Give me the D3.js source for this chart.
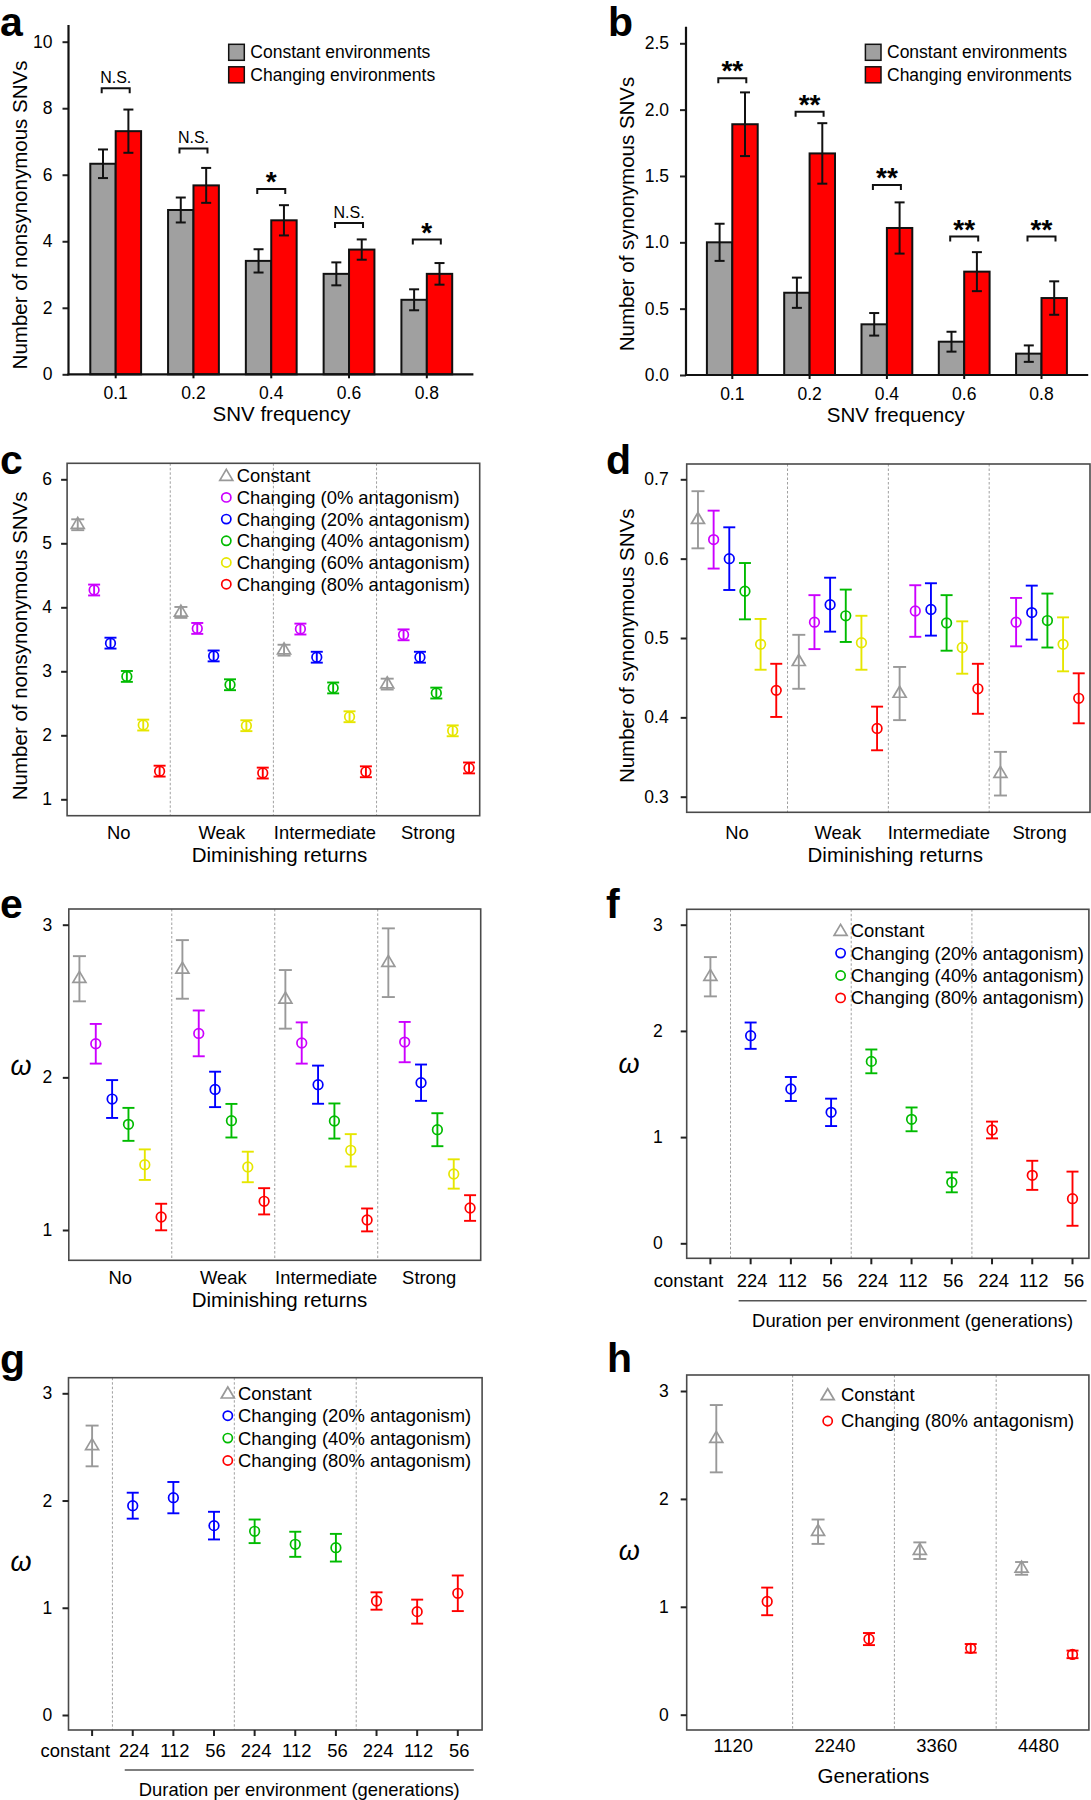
<!DOCTYPE html>
<html><head><meta charset="utf-8">
<script src="https://cdn.jsdelivr.net/npm/d3@7"></script>
<style>
body{margin:0;background:#fff}
svg{display:block;font-family:Arial,"Liberation Sans",Helvetica,sans-serif}
</style>
</head><body>
<svg id="chart" width="1091" height="1800"></svg>
<script>
// ---------------- data ----------------
const freqLabels = ["0.1", "0.2", "0.4", "0.6", "0.8"];
// panel a: nonsynonymous SNVs
const nonsynConst = [6.33, 4.94, 3.41, 3.02, 2.24];
const nonsynConstSE = [0.43, 0.375, 0.35, 0.345, 0.315];
const nonsynChange = [7.31, 5.68, 4.63, 3.75, 3.02];
const nonsynChangeSE = [0.65, 0.525, 0.455, 0.305, 0.325];
const nonsynSig = ["N.S.", "N.S.", "*", "N.S.", "*"];
const nonsynSigLevel = [8.6, 6.79, 5.57, 4.55, 4.05];
// panel b: synonymous SNVs
const synConst = [1.0, 0.62, 0.382, 0.251, 0.161];
const synConstSE = [0.14, 0.114, 0.085, 0.075, 0.062];
const synChange = [1.89, 1.67, 1.108, 0.779, 0.58];
const synChangeSE = [0.24, 0.228, 0.193, 0.147, 0.126];
const synSig = ["**", "**", "**", "**", "**"];
const synSigLevel = [2.236, 1.985, 1.432, 1.043, 1.043];

const drGroups = ["No", "Weak", "Intermediate", "Strong"];
const seriesKeys = ["constant", "ant0", "ant20", "ant40", "ant60", "ant80"];
const seriesNames = ["Constant", "Changing (0% antagonism)", "Changing (20% antagonism)",
  "Changing (40% antagonism)", "Changing (60% antagonism)", "Changing (80% antagonism)"];

// panel c: nonsynonymous SNVs by diminishing returns
const cConstant = [5.29, 3.92, 3.33, 2.80];
const cAnt0 = [4.27, 3.67, 3.66, 3.57];
const cAnt20 = [3.44, 3.24, 3.22, 3.22];
const cAnt40 = [2.92, 2.79, 2.74, 2.66];
const cAnt60 = [2.16, 2.15, 2.29, 2.07];
const cAnt80 = [1.44, 1.41, 1.43, 1.49];
const cSE = [0.085, 0.085, 0.085, 0.085];

// panel d: synonymous SNVs by diminishing returns
const dConstant = [0.649, 0.470, 0.430, 0.329];
const dAnt0 = [0.624, 0.520, 0.534, 0.520];
const dAnt20 = [0.600, 0.542, 0.536, 0.532];
const dAnt40 = [0.559, 0.528, 0.519, 0.522];
const dAnt60 = [0.492, 0.494, 0.488, 0.492];
const dAnt80 = [0.434, 0.386, 0.436, 0.424];
const dConstantSE = [0.036, 0.034, 0.0335, 0.0275];
const dAnt0SE = [0.0365, 0.034, 0.0325, 0.0305];
const dAnt20SE = [0.0395, 0.034, 0.033, 0.034];
const dAnt40SE = [0.0355, 0.033, 0.035, 0.034];
const dAnt60SE = [0.032, 0.034, 0.033, 0.034];
const dAnt80SE = [0.0335, 0.0275, 0.0315, 0.0315];

// panel e: omega by diminishing returns
const eConstant = [2.646, 2.707, 2.511, 2.751];
const eAnt0 = [2.22, 2.288, 2.225, 2.231];
const eAnt20 = [1.858, 1.921, 1.952, 1.965];
const eAnt40 = [1.692, 1.716, 1.714, 1.657];
const eAnt60 = [1.428, 1.413, 1.522, 1.367];
const eAnt80 = [1.085, 1.188, 1.066, 1.144];
const eConstantSE = [0.148, 0.192, 0.192, 0.225];
const eAnt0SE = [0.13, 0.15, 0.135, 0.132];
const eAnt20SE = [0.124, 0.116, 0.125, 0.119];
const eAnt40SE = [0.108, 0.11, 0.115, 0.108];
const eAnt60SE = [0.10, 0.10, 0.106, 0.096];
const eAnt80SE = [0.087, 0.086, 0.075, 0.084];

// panels f, g: omega by duration per environment
const durLabels = ["constant", "224", "112", "56", "224", "112", "56", "224", "112", "56"];
const fConstant = [2.51], fConstantSE = [0.185];
const fAnt20 = [1.955, 1.453, 1.233], fAnt20SE = [0.124, 0.113, 0.129];
const fAnt40 = [1.713, 1.167, 0.574], fAnt40SE = [0.112, 0.112, 0.094];
const fAnt80 = [1.067, 0.64, 0.42], fAnt80SE = [0.079, 0.137, 0.255];
const gConstant = [2.509], gConstantSE = [0.19];
const gAnt20 = [1.952, 2.027, 1.766], gAnt20SE = [0.121, 0.146, 0.129];
const gAnt40 = [1.713, 1.592, 1.560], gAnt40SE = [0.11, 0.117, 0.129];
const gAnt80 = [1.063, 0.964, 1.135], gAnt80SE = [0.081, 0.112, 0.166];

// panel h: omega by generations
const genLabels = ["1120", "2240", "3360", "4480"];
const hConstant = [2.558, 1.696, 1.52, 1.356];
const hConstantSE = [0.312, 0.113, 0.077, 0.059];
const hAnt80 = [1.05, 0.701, 0.615, 0.559];
const hAnt80SE = [0.128, 0.056, 0.04, 0.035];

// ---------------- drawing ----------------
const svg = d3.select("#chart");
const FONT = 'Arial, "Liberation Sans", Helvetica, sans-serif';
const COLOR = {constant: "#999999", ant0: "#cc00ff", ant20: "#0000ff", ant40: "#00bb00", ant60: "#e6e600", ant80: "#ff0000"};
const NAME = {}; seriesKeys.forEach((k, i) => NAME[k] = seriesNames[i]);
const triPath = "M0,-7.3L6.5,3.7L-6.5,3.7Z";

function panelLabel(t, x, y) {
  svg.append("text").attr("x", x).attr("y", y).attr("font-size", 41).attr("font-weight", "bold")
    .attr("font-family", FONT).text(t);
}
function yAxis(y, x, ticks, fmt, pad) {
  const ax = d3.axisLeft(y).tickValues(ticks).tickFormat(fmt).tickSize(6).tickPadding(pad);
  const a = svg.append("g").attr("transform", `translate(${x},0)`).call(ax);
  a.select(".domain").remove();
  a.selectAll(".tick line").attr("stroke", "#222").attr("stroke-width", 2);
  a.selectAll(".tick text").attr("font-size", 17.5).attr("font-family", FONT).attr("fill", "#000");
  return a;
}
function yTitle(t, cx, cy, size) {
  svg.append("text").attr("transform", `translate(${cx},${cy}) rotate(-90)`).attr("text-anchor", "middle")
    .attr("dy", "0.35em").attr("font-size", size).attr("font-family", FONT).text(t);
}
function omega(cx, cy) {
  svg.append("text").attr("x", cx).attr("y", cy).attr("text-anchor", "middle").attr("dy", "0.3em")
    .attr("font-size", 27).attr("font-style", "italic").attr("font-family", FONT).text("ω");
}
function text(t, x, y, size, anchor) {
  return svg.append("text").attr("x", x).attr("y", y).attr("font-size", size).attr("text-anchor", anchor || "start")
    .attr("font-family", FONT).text(t);
}
function errBar(g, x, y, v, se, color, half, sw) {
  g.append("line").attr("x1", x).attr("x2", x).attr("y1", y(v - se)).attr("y2", y(v + se))
    .attr("stroke", color).attr("stroke-width", sw);
  [v - se, v + se].forEach(e => g.append("line").attr("x1", x - half).attr("x2", x + half)
    .attr("y1", y(e)).attr("y2", y(e)).attr("stroke", color).attr("stroke-width", sw));
}
function marker(g, key, x, yy, r) {
  if (key === "constant") {
    g.append("path").attr("d", triPath).attr("transform", `translate(${x},${yy})`)
      .attr("fill", "none").attr("stroke", COLOR[key]).attr("stroke-width", 1.7);
  } else {
    g.append("circle").attr("cx", x).attr("cy", yy).attr("r", r || 4.8)
      .attr("fill", "none").attr("stroke", COLOR[key]).attr("stroke-width", 1.7);
  }
}
function legend(keys, mx, tx, y0, dy, size) {
  const g = svg.append("g");
  keys.forEach((k, i) => {
    const yy = y0 + i * dy;
    marker(g, k, mx, yy + (k === "constant" ? 1 : 0), 4.6);
    g.append("text").attr("x", tx).attr("y", yy).attr("dy", "0.35em").attr("font-size", size)
      .attr("font-family", FONT).text(NAME[k]);
  });
}
function frame(f) {
  svg.append("rect").attr("x", f.x0).attr("y", f.y0).attr("width", f.x1 - f.x0).attr("height", f.y1 - f.y0)
    .attr("fill", "none").attr("stroke", "#4a4a4a").attr("stroke-width", 1.6);
}
function divider(x, f) {
  svg.append("line").attr("x1", x).attr("x2", x).attr("y1", f.y0).attr("y2", f.y1)
    .attr("stroke", "#a0a0a0").attr("stroke-width", 1).attr("stroke-dasharray", "2.5,2");
}

// ---------- bar panels (a, b) ----------
function barPanel(o) {
  const g = svg.append("g");
  const y = d3.scaleLinear().domain(o.yDomain).range(o.yRange);
  const x = d3.scaleBand().domain(freqLabels).range(o.xRange).padding(0);
  const cx = c => x(c) + x.bandwidth() / 2;
  const bw = 25.4;
  const rows = freqLabels.map((c, i) => ({c, a: o.cV[i], as: o.cS[i], b: o.chV[i], bs: o.chS[i], sig: o.sig[i], lvl: o.lvl[i]}));
  g.selectAll(".bc").data(rows).join("rect").attr("x", d => cx(d.c) - bw).attr("y", d => y(d.a))
    .attr("width", bw).attr("height", d => y(0) - y(d.a)).attr("fill", "#a0a0a0").attr("stroke", "#111").attr("stroke-width", 2);
  g.selectAll(".br").data(rows).join("rect").attr("x", d => cx(d.c)).attr("y", d => y(d.b))
    .attr("width", bw).attr("height", d => y(0) - y(d.b)).attr("fill", "#ff0000").attr("stroke", "#111").attr("stroke-width", 2);
  rows.forEach(d => {
    errBar(g, cx(d.c) - bw / 2, y, d.a, d.as, "#111", 5, 2);
    errBar(g, cx(d.c) + bw / 2, y, d.b, d.bs, "#111", 5, 2);
    const by = y(d.lvl), x0 = cx(d.c) - 14, x1 = cx(d.c) + 14;
    g.append("path").attr("d", `M${x0},${by + 5}V${by}H${x1}V${by + 5}`).attr("fill", "none")
      .attr("stroke", "#111").attr("stroke-width", 2);
    if (d.sig === "N.S.") text(d.sig, cx(d.c), by - 5, 16, "middle");
    else text(d.sig, cx(d.c), by + 2, 28, "middle").attr("font-weight", "bold");
  });
  // axes
  yAxis(y, o.axX, o.ticks, o.fmt, o.pad);
  svg.append("line").attr("x1", o.axX).attr("x2", o.axX).attr("y1", o.axTop).attr("y2", y(0) + 1)
    .attr("stroke", "#111").attr("stroke-width", 2.2);
  svg.append("line").attr("x1", o.axX - 1).attr("x2", o.xEnd).attr("y1", y(0)).attr("y2", y(0))
    .attr("stroke", "#111").attr("stroke-width", 2.2);
  freqLabels.forEach(c => {
    svg.append("line").attr("x1", cx(c)).attr("x2", cx(c)).attr("y1", y(0)).attr("y2", y(0) + 4)
      .attr("stroke", "#111").attr("stroke-width", 2);
    text(c, cx(c), y(0) + 25, 17.5, "middle");
  });
  text("SNV frequency", o.titleX, y(0) + 46.5, 20.5, "middle");
  yTitle(o.yTitle, o.yTitleX, o.yTitleY, 20.5);
  // legend
  [["#a0a0a0", "Constant environments"], ["#ff0000", "Changing environments"]].forEach((l, i) => {
    svg.append("rect").attr("x", o.legX).attr("y", 44.3 + i * 22.5).attr("width", 15.6).attr("height", 16)
      .attr("fill", l[0]).attr("stroke", "#111").attr("stroke-width", 1.5);
    svg.append("text").attr("x", o.legX + 21.6).attr("y", 52.3 + i * 22.5).attr("dy", "0.35em")
      .attr("font-size", 17.5).attr("font-family", FONT).text(l[1]);
  });
}

barPanel({yDomain: [0, 10], yRange: [374.3, 41.7], xRange: [76.8, 465.7], cV: nonsynConst, cS: nonsynConstSE,
  chV: nonsynChange, chS: nonsynChangeSE, sig: nonsynSig, lvl: nonsynSigLevel, axX: 68.5, axTop: 25, xEnd: 473.4,
  ticks: [0, 2, 4, 6, 8, 10], fmt: d3.format("d"), pad: 10, titleX: 281.5,
  yTitle: "Number of nonsynonymous SNVs", yTitleX: 19.5, yTitleY: 215, legX: 228.7});
barPanel({yDomain: [0, 2.5], yRange: [375, 43.3], xRange: [693.65, 1080.15], cV: synConst, cS: synConstSE,
  chV: synChange, chS: synChangeSE, sig: synSig, lvl: synSigLevel, axX: 686, axTop: 26.7, xEnd: 1088.2,
  ticks: [0, 0.5, 1, 1.5, 2, 2.5], fmt: d3.format(".1f"), pad: 11, titleX: 895.8,
  yTitle: "Number of synonymous SNVs", yTitleX: 627, yTitleY: 214, legX: 865.4});
panelLabel("a", 0, 36);
panelLabel("b", 608, 36);

// ---------- dot panels (c, d, e) ----------
function dotPanel(o) {
  const f = o.frame;
  const y = d3.scaleLinear().domain(o.yDomain).range(o.yRange);
  const xg = d3.scaleBand().domain(drGroups).range([f.x0, f.x1]).padding(0);
  const xs = d3.scalePoint().domain(seriesKeys).range([0, xg.bandwidth()]).padding(o.pp);
  drGroups.slice(1).forEach(gn => divider(xg(gn), f));
  const g = svg.append("g");
  seriesKeys.forEach(k => drGroups.forEach((gn, gi) => {
    const px = xg(gn) + xs(k), v = o.means[k][gi], se = o.se[k][gi];
    errBar(g, px, y, v, se, COLOR[k], k === "constant" ? 6.5 : 6, 1.9);
    marker(g, k, px, y(v));
  }));
  frame(f);
  yAxis(y, f.x0, o.ticks, o.fmt, o.pad);
  drGroups.forEach(gn => text(gn, xg(gn) + xg.bandwidth() / 2, o.lblY, 18.4, "middle"));
  text("Diminishing returns", o.titleX, o.titleY, 20.5, "middle");
}

dotPanel({frame: {x0: 67.1, x1: 479.7, y0: 463.3, y1: 815.7}, yDomain: [1, 6], yRange: [799.3, 479.3], pp: 0.65,
  means: {constant: cConstant, ant0: cAnt0, ant20: cAnt20, ant40: cAnt40, ant60: cAnt60, ant80: cAnt80},
  se: {constant: cSE, ant0: cSE, ant20: cSE, ant40: cSE, ant60: cSE, ant80: cSE},
  ticks: [1, 2, 3, 4, 5, 6], fmt: d3.format("d"), pad: 9, lblY: 839, titleX: 279.5, titleY: 861.7});
yTitle("Number of nonsynonymous SNVs", 19.5, 645.8, 20.5);
legend(seriesKeys, 226.3, 236.7, 475.7, 21.7, 18.4);
panelLabel("c", 0, 474);

dotPanel({frame: {x0: 686.7, x1: 1090, y0: 464, y1: 812.3}, yDomain: [0.3, 0.7], yRange: [796.7, 479.3], pp: 0.72,
  means: {constant: dConstant, ant0: dAnt0, ant20: dAnt20, ant40: dAnt40, ant60: dAnt60, ant80: dAnt80},
  se: {constant: dConstantSE, ant0: dAnt0SE, ant20: dAnt20SE, ant40: dAnt40SE, ant60: dAnt60SE, ant80: dAnt80SE},
  ticks: [0.3, 0.4, 0.5, 0.6, 0.7], fmt: d3.format(".1f"), pad: 12, lblY: 839, titleX: 895.3, titleY: 861.7});
yTitle("Number of synonymous SNVs", 627, 645.8, 20.5);
panelLabel("d", 606, 474);

dotPanel({frame: {x0: 68.8, x1: 480.7, y0: 909, y1: 1260.3}, yDomain: [1, 3], yRange: [1230, 924.7], pp: 0.65,
  means: {constant: eConstant, ant0: eAnt0, ant20: eAnt20, ant40: eAnt40, ant60: eAnt60, ant80: eAnt80},
  se: {constant: eConstantSE, ant0: eAnt0SE, ant20: eAnt20SE, ant40: eAnt40SE, ant60: eAnt60SE, ant80: eAnt80SE},
  ticks: [1, 2, 3], fmt: d3.format("d"), pad: 10.7, lblY: 1284, titleX: 279.5, titleY: 1306.5});
omega(21, 1066.7);
panelLabel("e", 0, 918);

// ---------- duration panels (f, g) ----------
function durPanel(o) {
  const f = o.frame;
  const y = d3.scaleLinear().domain([0, 3]).range(o.yRange);
  const x = d3.scalePoint().domain(d3.range(durLabels.length)).range([f.x0 + o.padL, f.x1 - o.padR]);
  const pts = [{i: 0, k: "constant", v: o.c[0], se: o.cS[0]}];
  [["ant20", o.a20, o.a20S], ["ant40", o.a40, o.a40S], ["ant80", o.a80, o.a80S]].forEach((s, si) =>
    s[1].forEach((v, j) => pts.push({i: 1 + si * 3 + j, k: s[0], v, se: s[2][j]})));
  [[0, 1], [3, 4], [6, 7]].forEach(p => divider((x(p[0]) + x(p[1])) / 2, f));
  const g = svg.append("g");
  pts.forEach(p => { errBar(g, x(p.i), y, p.v, p.se, COLOR[p.k], p.k === "constant" ? 6.5 : 6, 1.9); marker(g, p.k, x(p.i), y(p.v)); });
  frame(f);
  yAxis(y, f.x0, [0, 1, 2, 3], d3.format("d"), o.pad);
  durLabels.forEach((l, i) => {
    svg.append("line").attr("x1", x(i)).attr("x2", x(i)).attr("y1", f.y1).attr("y2", f.y1 + 6)
      .attr("stroke", "#222").attr("stroke-width", 2);
    if (i === 0) text(l, x(i) + o.constOff, o.lblY, 18.4, "end");
    else text(l, x(i) + 1.5, o.lblY, 18.4, "middle");
  });
  const u0 = x(1) + o.ul0, u1 = o.ul1;
  svg.append("line").attr("x1", u0).attr("x2", u1).attr("y1", o.ulY).attr("y2", o.ulY).attr("stroke", "#555").attr("stroke-width", 1.6);
  text("Duration per environment (generations)", (u0 + u1) / 2, o.titleY, 18.4, "middle");
  legend(["constant", "ant20", "ant40", "ant80"], o.legMX, o.legTX, o.legY, 22.4, 18.4);
}

durPanel({frame: {x0: 686.7, x1: 1088.9, y0: 909.3, y1: 1258.3}, yRange: [1243.3, 924.7], padL: 23.7, padR: 16.4,
  c: fConstant, cS: fConstantSE, a20: fAnt20, a20S: fAnt20SE, a40: fAnt40, a40S: fAnt40SE, a80: fAnt80, a80S: fAnt80SE,
  pad: 18, constOff: 13, lblY: 1287.3, ul0: -12, ul1: 1086.6, ulY: 1300.7, titleY: 1326.5,
  legMX: 840.6, legTX: 850.7, legY: 930.7});
omega(629, 1065);
panelLabel("f", 606, 918);

durPanel({frame: {x0: 68.5, x1: 482.1, y0: 1377.7, y1: 1730}, yRange: [1715, 1393.3], padL: 23.6, padR: 24.3,
  c: gConstant, cS: gConstantSE, a20: gAnt20, a20S: gAnt20SE, a40: gAnt40, a40S: gAnt40SE, a80: gAnt80, a80S: gAnt80SE,
  pad: 10.4, constOff: 18, lblY: 1757.3, ul0: -8, ul1: 473.8, ulY: 1770, titleY: 1796,
  legMX: 227.8, legTX: 238.1, legY: 1393.3});
omega(21, 1563.3);
panelLabel("g", 0, 1373);

// ---------- generations panel (h) ----------
(function () {
  const f = {x0: 686.7, x1: 1088.9, y0: 1375, y1: 1730};
  const y = d3.scaleLinear().domain([0, 3]).range([1714.7, 1391]);
  const x = d3.scalePoint().domain(d3.range(genLabels.length * 2)).range([716.3, 1072.5]);
  [[1, 2], [3, 4], [5, 6]].forEach(p => divider((x(p[0]) + x(p[1])) / 2, f));
  const g = svg.append("g");
  genLabels.forEach((l, i) => {
    errBar(g, x(2 * i), y, hConstant[i], hConstantSE[i], COLOR.constant, 6.5, 1.9);
    marker(g, "constant", x(2 * i), y(hConstant[i]));
    errBar(g, x(2 * i + 1), y, hAnt80[i], hAnt80SE[i], COLOR.ant80, 6, 1.9);
    marker(g, "ant80", x(2 * i + 1), y(hAnt80[i]));
    text(l, x(2 * i) + x.step() / 3, 1751.7, 18.4, "middle");
  });
  frame(f);
  yAxis(y, f.x0, [0, 1, 2, 3], d3.format("d"), 12);
  text("Generations", 873.4, 1783.3, 20.5, "middle");
  legend(["constant", "ant80"], 827.7, 841, 1395, 26, 18.4);
  omega(629.3, 1551.7);
  panelLabel("h", 607, 1372);
})();
</script>
</body></html>
